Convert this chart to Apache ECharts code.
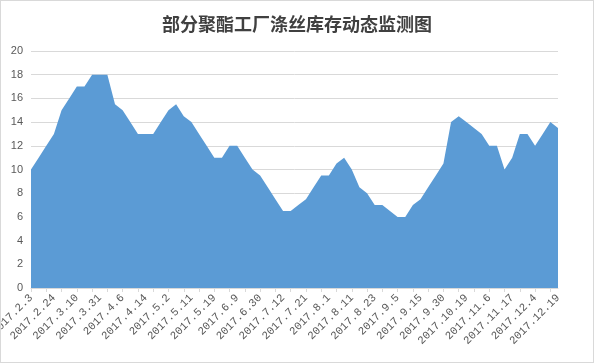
<!DOCTYPE html>
<html>
<head>
<meta charset="utf-8">
<script src="https://cdn.jsdelivr.net/npm/echarts@6/dist/echarts.min.js"></script>
<style>
html,body{margin:0;padding:0;background:#fff;}
#c{width:594px;height:363px;box-sizing:border-box;border:1px solid #d9d9d9;}
</style>
</head>
<body>
<div id="c"></div>
<script>
const title = '部分聚酯工厂涤丝库存动态监测图';
const categories = [
 '2017.2.3','2017.2.10','2017.2.17','2017.2.24','2017.3.1','2017.3.6','2017.3.10','2017.3.17','2017.3.24','2017.3.31',
 '2017.4.2','2017.4.4','2017.4.6','2017.4.8','2017.4.11','2017.4.14','2017.4.21','2017.4.26','2017.5.2','2017.5.5',
 '2017.5.8','2017.5.11','2017.5.15','2017.5.17','2017.5.19','2017.5.26','2017.6.2','2017.6.9','2017.6.16','2017.6.23',
 '2017.6.30','2017.7.4','2017.7.7','2017.7.12','2017.7.14','2017.7.18','2017.7.21','2017.7.25','2017.7.28','2017.8.1',
 '2017.8.4','2017.8.8','2017.8.11','2017.8.15','2017.8.18','2017.8.23','2017.8.25','2017.9.1','2017.9.5','2017.9.8',
 '2017.9.12','2017.9.15','2017.9.20','2017.9.25','2017.9.30','2017.10.12','2017.10.16','2017.10.19','2017.10.24','2017.10.31',
 '2017.11.6','2017.11.10','2017.11.14','2017.11.17','2017.11.24','2017.11.29','2017.12.4','2017.12.8','2017.12.14','2017.12.19'
];
const inventory = [
 10,11,12,13,15,16,17,17,18,18,
 18,15.5,15,14,13,13,13,14,15,15.5,
 14.5,14,13,12,11,11,12,12,11,10,
 9.5,8.5,7.5,6.5,6.5,7,7.5,8.5,9.5,9.5,
 10.5,11,10,8.5,8,7,7,6.5,6,6,
 7,7.5,8.5,9.5,10.5,14,14.5,14,13.5,13,
 12,12,10,11,13,13,12,13,14,13.5
];
const yMin = 0, yMax = 20, yStep = 2;

const chart = echarts.init(document.getElementById('c'));
chart.setOption({
  animation: false,
  backgroundColor: '#fff',
  title: {
    text: title,
    left: 'center',
    top: 9,
    textStyle: {fontFamily: 'Noto Sans CJK SC', fontWeight: 'bold', fontSize: 18, color: '#404040'}
  },
  grid: {left: 30, right: 35, top: 50, bottom: 74, containLabel: false, outerBoundsMode: 'none'},
  xAxis: {
    type: 'category',
    data: categories,
    boundaryGap: false,
    axisLine: {lineStyle: {color: '#d9d9d9', width: 1}},
    axisTick: {show: true, interval: 1, length: 4, lineStyle: {color: '#d9d9d9'}},
    axisLabel: {
      interval: 2, rotate: 45, margin: 8, hideOverlap: false,
      fontFamily: 'Liberation Mono', fontSize: 11, color: '#595959'
    },
    splitLine: {show: false}
  },
  yAxis: {
    type: 'value',
    min: yMin, max: yMax, interval: yStep,
    axisLine: {show: false},
    axisTick: {show: false},
    axisLabel: {fontFamily: 'Liberation Sans', fontSize: 11, color: '#595959', margin: 8},
    splitLine: {lineStyle: {color: '#d9d9d9', width: 1}}
  },
  series: [{
    type: 'line',
    data: inventory,
    symbol: 'none',
    lineStyle: {width: 0, color: '#5b9bd5'},
    itemStyle: {color: '#5b9bd5'},
    areaStyle: {color: '#5b9bd5', opacity: 1}
  }]
});
</script>
</body>
</html>
